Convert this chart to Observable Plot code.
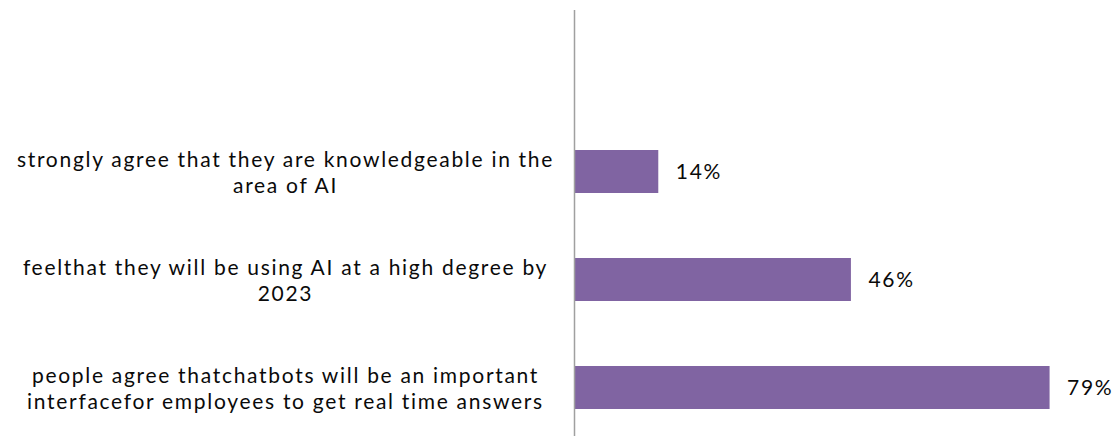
<!DOCTYPE html>
<html>
<head>
<meta charset="utf-8">
<script src="https://cdn.jsdelivr.net/npm/d3@7"></script>
<script src="https://cdn.jsdelivr.net/npm/@observablehq/plot@0.6"></script>
<style>
  html, body { margin: 0; padding: 0; background: #fff; }
  #chart svg { display: block; }
  #chart svg text { letter-spacing: 1.7px; }
</style>
</head>
<body>
<div id="chart"></div>
<script>
const categories = [
  "strongly agree that they are knowledgeable in the\narea of AI",
  "feelthat they will be using AI at a high degree by\n2023",
  "people agree thatchatbots will be an important\ninterfacefor employees to get real time answers"
];
const values = [14, 46, 79];
const valueLabels = ["14%", "46%", "79%"];

const data = categories.map((c, i) => ({category: c, value: values[i], label: valueLabels[i]}));

const chart = Plot.plot({
  width: 1117,
  height: 436,
  marginLeft: 574,
  marginRight: 0,
  marginTop: 10,
  marginBottom: 0,
  style: {fontFamily: "Lato, 'Open Sans', sans-serif", background: "#fff"},
  x: {domain: [0, 90.2], axis: null},
  y: {domain: categories, range: [85.6, 474.4], padding: 0.6, axis: null},
  marks: [
    Plot.barX(data, {x: "value", y: "category", fill: "#8064A2"}),
    Plot.ruleX([0], {stroke: "#a0a0a0", strokeWidth: 1.5}),
    Plot.text(data, {x: "value", y: "category", text: "label", dx: 17, textAnchor: "start", fontSize: 21, fill: "#0a0a0a"}),
    Plot.text(data, {x: () => 0, y: "category", text: "category", dx: -289, textAnchor: "middle", fontSize: 21, lineHeight: 1.2, fill: "#0a0a0a"})
  ]
});
document.getElementById("chart").appendChild(chart);
</script>
</body>
</html>
